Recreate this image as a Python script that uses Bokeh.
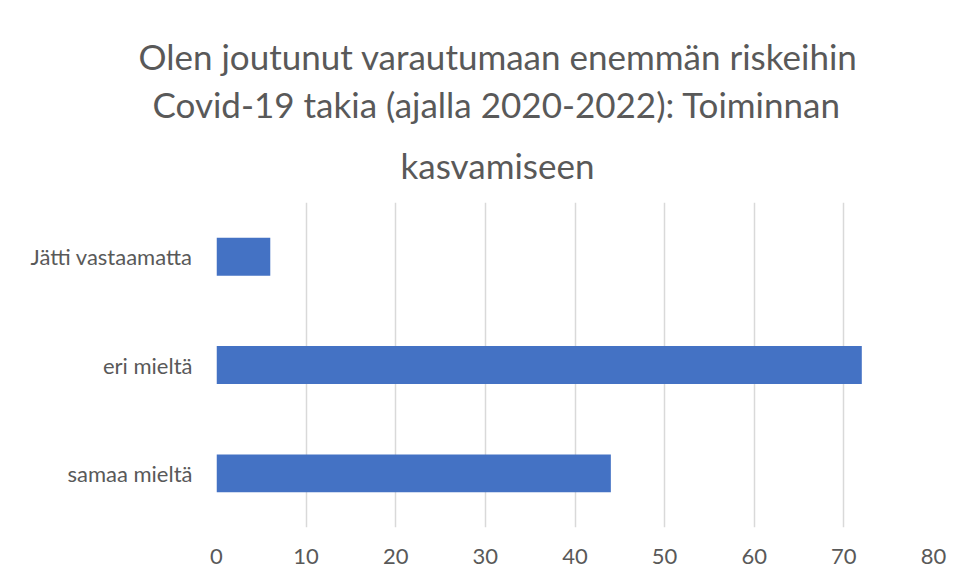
from bokeh.plotting import figure
from bokeh.models import Range1d, FixedTicker, Title, ColumnDataSource
from bokeh.embed import file_html
from bokeh.resources import INLINE

# Data
categories = ["samaa mieltä", "eri mieltä", "Jätti vastaamatta"]
values = [44, 72, 6]
x_ticks = [0, 10, 20, 30, 40, 50, 60, 70, 80]
title_lines = [
    "Olen joutunut varautumaan enemmän riskeihin",
    "Covid-19 takia (ajalla 2020-2022): Toiminnan",
    "kasvamiseen",
]

FONT = "Lato"
TXT = "#595959"
GRID = "#d9d9d9"
BAR = "#4472C4"

src = ColumnDataSource(data=dict(cat=categories, val=values))

p = figure(
    width=955, height=579,
    y_range=categories,
    x_range=Range1d(0, 80),
    output_backend="svg",
    toolbar_location=None,
    min_border_left=216, min_border_right=22,
    min_border_top=202, min_border_bottom=52,
)
p.title = None
p.outline_line_color = None
p.background_fill_color = "white"
p.border_fill_color = "white"

p.hbar(y="cat", right="val", left=0, height=0.35, source=src,
       fill_color=BAR, line_color=None)

p.y_range.range_padding = 0

# Title lines (bottom line first; later ones stack upward)
title_offsets = [-78, -64, 184]
title_standoffs = [7, 0, 34]
for line, off, so in reversed(list(zip(title_lines, title_offsets, title_standoffs))):
    t = Title(text=line, align="left", offset=off,
              text_font=FONT, text_font_size="35px", text_font_style="normal",
              text_color=TXT, standoff=so)
    p.add_layout(t, "above")

# X axis
p.xaxis.ticker = FixedTicker(ticks=x_ticks)
p.xaxis.axis_line_color = None
p.xaxis.major_tick_line_color = None
p.xaxis.minor_tick_line_color = None
p.xaxis.major_label_text_font = FONT
p.xaxis.major_label_text_font_size = "22px"
p.xaxis.major_label_text_color = TXT
p.xaxis.major_label_standoff = 15

# Y axis
p.yaxis.axis_line_color = None
p.yaxis.major_tick_line_color = None
p.yaxis.minor_tick_line_color = None
p.yaxis.major_label_text_font = FONT
p.yaxis.major_label_text_font_size = "22px"
p.yaxis.major_label_text_color = TXT
p.yaxis.major_label_standoff = 18

# Grid
p.xgrid.grid_line_color = GRID
p.xgrid.grid_line_width = 1.5
p.ygrid.grid_line_color = None

open("out.html", "w").write(file_html(p, INLINE))
